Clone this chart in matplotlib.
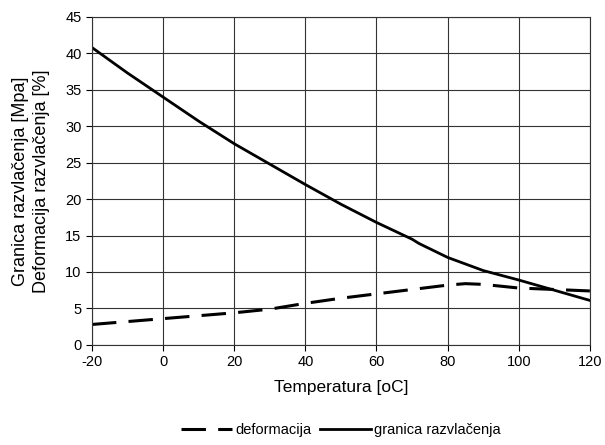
import matplotlib
matplotlib.use("Agg")
import matplotlib.pyplot as plt

plt.rcParams["font.family"] = ["Liberation Sans", "DejaVu Sans"]
plt.rcParams["axes.unicode_minus"] = False

# Temperature [oC]
temp_granica = [-20, -10, 0, 10, 20, 30, 40, 50, 60, 70, 72, 80, 90, 100, 110, 120]
granica = [40.8, 37.3, 34.0, 30.7, 27.6, 24.8, 22.0, 19.3, 16.8, 14.5, 13.9, 12.0, 10.2, 8.9, 7.5, 6.1]

temp_deform = [-20, -10, 0, 10, 20, 30, 40, 50, 60, 70, 80, 85, 90, 100, 110, 120]
deformacija = [2.8, 3.2, 3.6, 4.0, 4.4, 4.9, 5.7, 6.4, 7.0, 7.6, 8.2, 8.4, 8.3, 7.8, 7.6, 7.4]

xticks = [-20, 0, 20, 40, 60, 80, 100, 120]
yticks = [0, 5, 10, 15, 20, 25, 30, 35, 40, 45]

fig = plt.figure(figsize=(6.05, 4.45), dpi=100)
ax = fig.add_axes([0.152, 0.225, 0.823, 0.737])

ax.plot(temp_deform, deformacija, color="black", lw=2.2, ls=(0, (8, 4)),
        label="deformacija")
ax.plot(temp_granica, granica, color="black", lw=2.0, label="granica razvlačenja")

ax.set_xlim(-20, 120)
ax.set_ylim(0, 45)
ax.set_xticks(xticks)
ax.set_yticks(yticks)
ax.grid(True, color="0.2", lw=0.8)
ax.set_axisbelow(True)
ax.tick_params(direction="out", length=4, labelsize=10.5, color="black")
for s in ax.spines.values():
    s.set_color("0.2")
    s.set_linewidth(0.8)

ax.set_xlabel("Temperatura [oC]", fontsize=12.5, labelpad=8)
ax.set_ylabel("Granica razvlačenja [Mpa]\nDeformacija razvlačenja [%]",
              fontsize=13, labelpad=11, linespacing=1.3)

ax.legend(loc="center", bbox_to_anchor=(0.5, -0.26), ncol=2, frameon=False,
          fontsize=10.5, handlelength=3.5, handletextpad=0.2, columnspacing=0.6)

fig.savefig("out.png", dpi=100)
